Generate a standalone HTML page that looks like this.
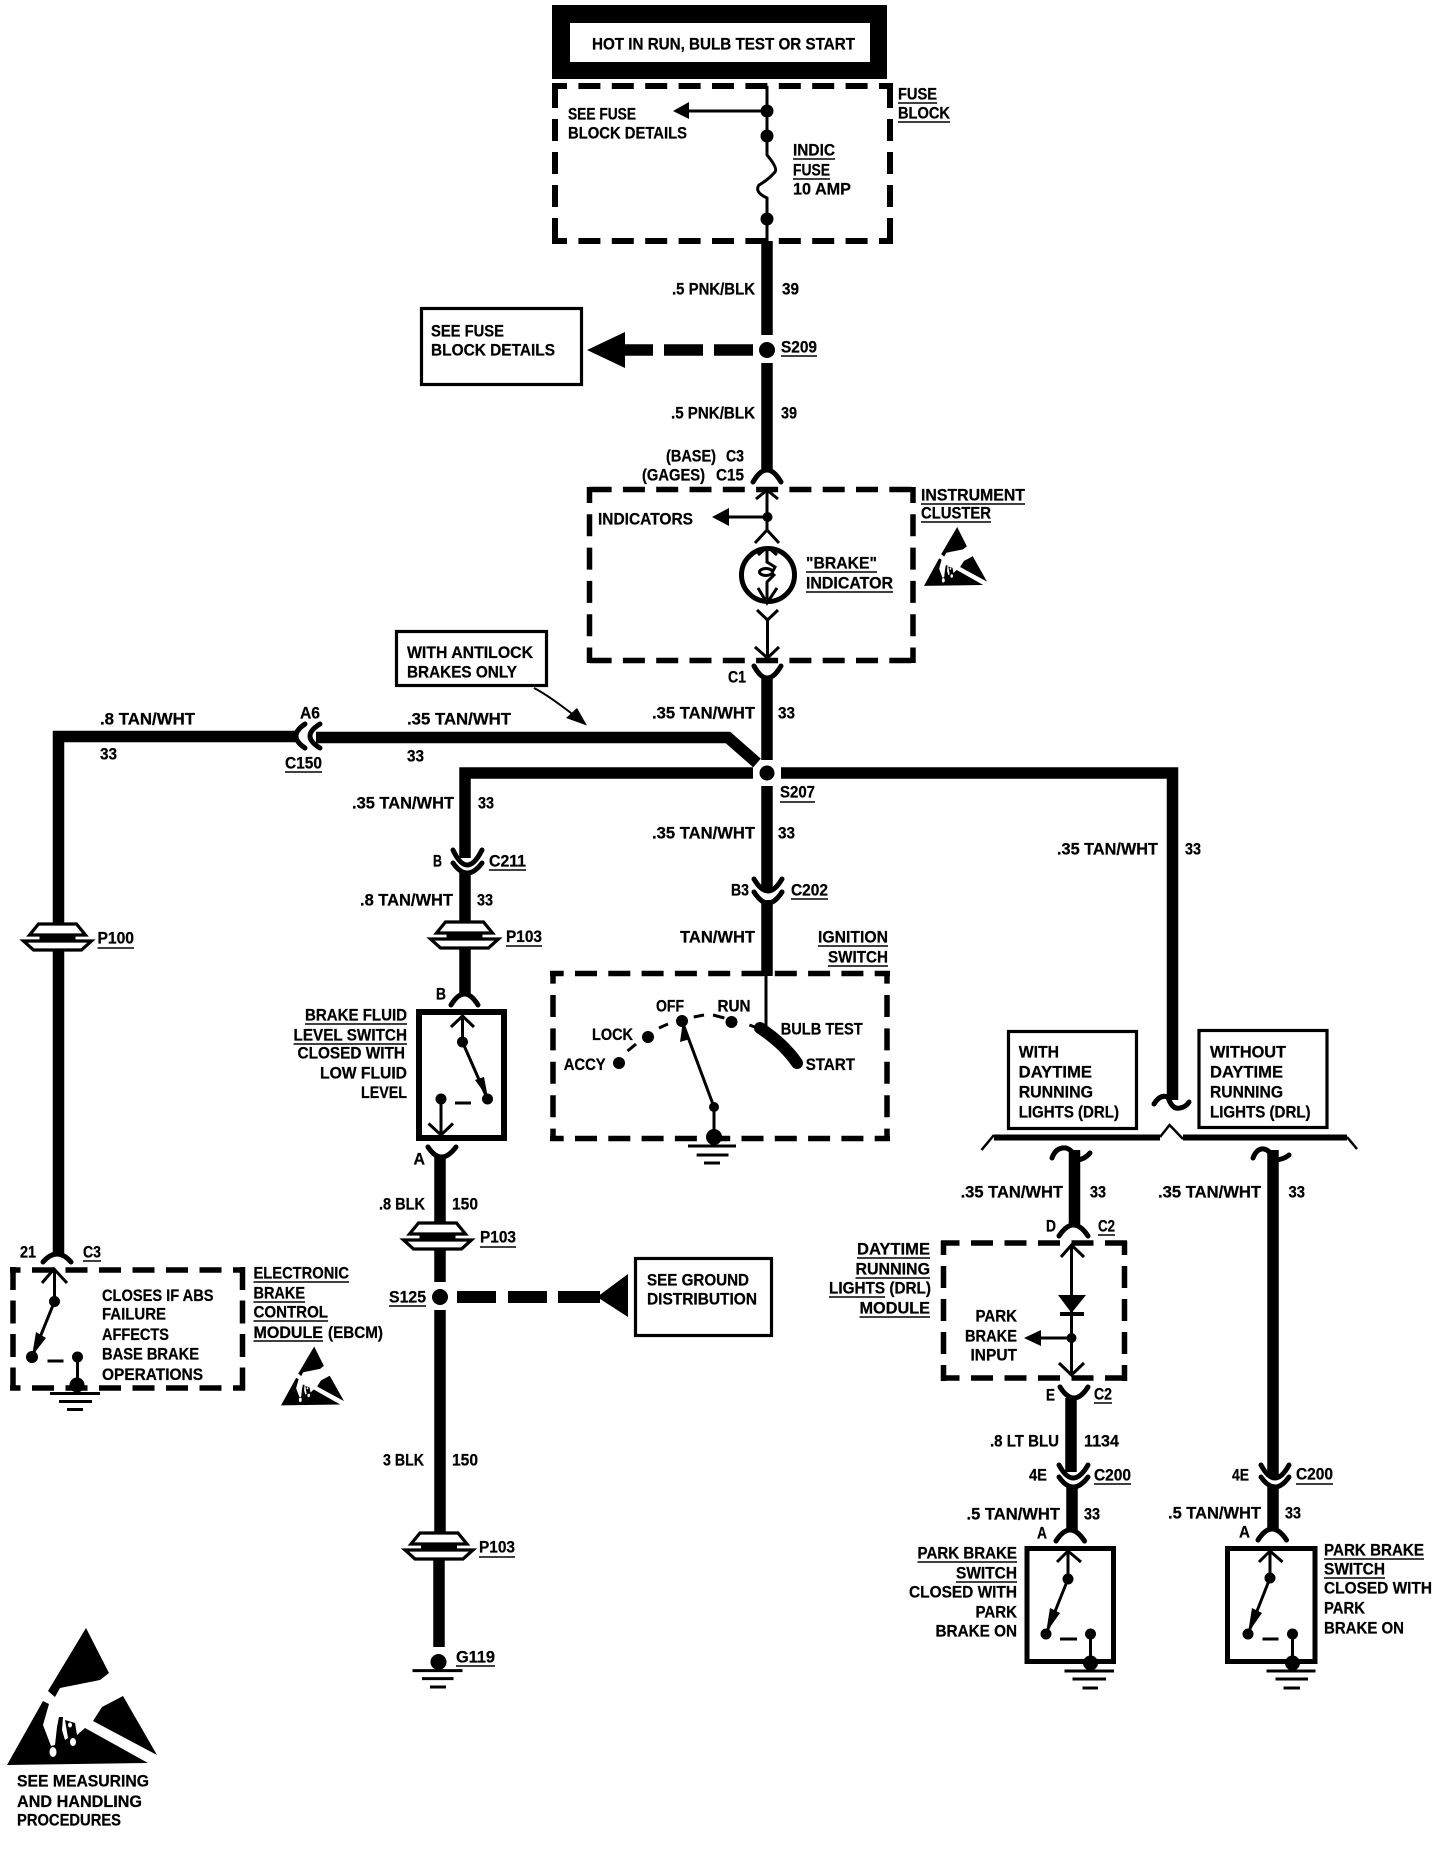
<!DOCTYPE html>
<html><head><meta charset="utf-8"><title>Brake indicator wiring diagram</title>
<style>
html,body{margin:0;padding:0;background:#fff}
svg{display:block}
text{font-family:"Liberation Sans",Arial,sans-serif;font-weight:700;font-size:16.4px;fill:#000;stroke:#000;stroke-width:.25}
.w{fill:none;stroke:#000;stroke-width:11.5}
.c{fill:none;stroke:#000;stroke-width:5;stroke-linecap:round}
.t{fill:none;stroke:#000;stroke-width:3}
.u{fill:none;stroke:#000;stroke-width:1.6}
.b{fill:none;stroke:#000;stroke-width:3.2}
.d{fill:none;stroke:#000;stroke-width:5.5}
</style></head><body>
<svg xmlns="http://www.w3.org/2000/svg" width="1440" height="1850" viewBox="0 0 1440 1850">
<defs>
<g id="gr">
<path d="M-19 -13H19L28 -2H-28Z" fill="#fff" stroke="#000" stroke-width="3.2"/>
<path d="M-18 1H18" stroke="#000" stroke-width="3"/>
<path d="M-34 4H34L24 13H-24Z" fill="#fff" stroke="#000" stroke-width="3.2"/>
</g>
<g id="esd">
<path d="M79 0L102 45L93 52L53 60L48 69L41 63Z"/>
<path d="M0 137L36 73L42 76L36 97L44 118L48 117L50 99L52 89L56 89L55 102L58 112L61 110L58 92L68 95L70 107L78 100L141 135Z"/>
<path d="M116 68L150 127L86 93L95 79Z"/>
<ellipse cx="46" cy="124" rx="3.5" ry="5" fill="#fff"/>
<ellipse cx="66" cy="114" rx="3" ry="4" fill="#fff"/>
<ellipse cx="63" cy="97" rx="2" ry="2.5" fill="#fff"/>
</g>
</defs>
<rect width="1440" height="1850" fill="#fff"/>

<!-- top box -->
<rect x="552" y="5" width="335" height="74"/>
<rect x="570" y="23" width="300" height="39" fill="#fff"/>

<!-- dashed boxes -->
<g class="d">
<path stroke-width="6" stroke-dasharray="22 11.4" stroke-dashoffset="7" d="M552 86H893M552 241H893"/>
<path stroke-width="6" stroke-dasharray="22 11" d="M555 86V244M890 86V244"/>
<path stroke-dasharray="22 11.3" d="M589.6 489.5H915M589.6 660.5H915"/>
<path stroke-dasharray="22 11.3" stroke-dashoffset="6" d="M589.5 487V663M913 487V663"/>
<path stroke-dasharray="22 11.3" stroke-dashoffset="8.3" d="M550 973.5H890M550 1138.5H890"/>
<path stroke-dasharray="22 11.4" stroke-dashoffset="9.4" d="M553 971V1141M887 971V1141"/>
<path stroke-dasharray="22 11.5" stroke-dashoffset="11.5" d="M10 1270H245M10 1388H245"/>
<path stroke-dasharray="23 10.5" d="M13 1267V1391M242.5 1267V1391"/>
<path stroke-dasharray="22 11.5" stroke-dashoffset="3.5" d="M941 1243H1127M941 1378H1127"/>
<path stroke-dasharray="22 11" stroke-dashoffset="8" d="M943.5 1241V1381M1124.5 1241V1381"/>
</g>

<!-- solid boxes -->
<g class="b">
<rect x="421.5" y="308.5" width="160" height="76"/>
<rect x="396.5" y="631.5" width="150" height="54"/>
<rect x="635.5" y="1258.5" width="136" height="77"/>
<rect x="1008.5" y="1031.5" width="128" height="97"/>
<rect x="1199" y="1030.5" width="128" height="97"/>
</g>
<rect x="419" y="1012" width="85" height="126" fill="none" stroke="#000" stroke-width="6"/>
<rect x="1027" y="1548.5" width="86.5" height="113" fill="none" stroke="#000" stroke-width="5"/>
<rect x="1227.5" y="1548.5" width="87.5" height="113" fill="none" stroke="#000" stroke-width="5"/>

<!-- thick wires -->
<g class="w">
<path d="M767 241V335M767 363V472"/>
<path d="M767 678V760M767 786V890M767 900V976"/>
<path d="M58.5 923V736.5H298M58.5 951V1254"/>
<path d="M316 737.5H728L757 763"/>
<path d="M753 773H465V858M465 873V922M465 948V995"/>
<path d="M781 773H1172.5V1100"/>
<path d="M440 1157V1222M440 1249V1282M440 1310V1532M439 1560V1647"/>
<path d="M1074.5 1150V1225M1071 1398V1472M1072 1487V1530"/>
<path d="M1273 1150V1476M1273 1487V1530"/>
<path d="M760 1028Q784 1044 797 1063" stroke-width="12" stroke-linecap="round"/>
</g>

<!-- dashed heavy connectors -->
<path d="M625 350H653M664 350H703M714 350H753" stroke="#000" stroke-width="11.5" fill="none"/>
<path d="M587 350L625 332V368Z"/>
<path d="M457 1297H496M508 1297H547M558 1297H600" stroke="#000" stroke-width="12" fill="none"/>
<path d="M597 1297L628 1274V1317Z"/>

<!-- connector arcs -->
<g class="c">
<path d="M753 482Q767 458 781 482"/>
<path d="M754 666Q767 690 781 666"/>
<path d="M754 879Q768 903 782 879M754 892Q768 914 782 892"/>
<path d="M305 724Q287 736 305 748M320 724Q300 736 320 748"/>
<path d="M453 850Q467 880 482 850M453 863Q467 883 482 863"/>
<path d="M451 1005Q464.5 983 478 1005"/>
<path d="M428 1147Q441 1167 456 1147"/>
<path d="M43 1262Q57 1246 71 1262"/>
<path d="M1059 1236Q1073.5 1214 1088 1236"/>
<path d="M1060 1387Q1074 1409 1088 1387"/>
<path d="M1059 1465Q1073 1491 1088 1465M1059 1477Q1073 1497 1088 1477"/>
<path d="M1056 1541Q1070 1519 1084.5 1541"/>
<path d="M1261 1465Q1275 1491 1289 1465M1261 1477Q1275 1497 1289 1477"/>
<path d="M1258 1540Q1272 1518 1286.5 1540"/>
<path d="M1154 1104Q1160 1094 1168 1097Q1172 1110 1180 1108Q1186 1107 1189 1102"/>
<path d="M1052 1158Q1056 1147 1066 1148Q1073 1150 1076 1160Q1084 1160 1090 1153"/>
<path d="M1253 1158Q1257 1148 1264 1149Q1270 1150 1274 1160Q1283 1160 1289 1155"/>
</g>

<!-- grommets -->
<use href="#gr" x="57.5" y="937"/>
<use href="#gr" x="464.5" y="935"/>
<use href="#gr" x="437.5" y="1236"/>
<use href="#gr" x="439" y="1546"/>

<!-- thin wires & device details -->
<g class="t">
<path d="M767 86V155Q778 168 775 172Q768 180 759 185Q754 192 767 198V241"/>
<path d="M767 111H688"/>
<path d="M767 490V530M756 499L767 490L778 499M767 517H728"/>
<path d="M755 543L767 530L779 543"/>
<path d="M757 610L767.5 620L778 610M767.5 620V658M755 647L767.5 658L779 647"/>
<path d="M766 976V1030"/>
<path d="M627.5 1051L636 1044M659 1028L668 1024M693.7 1017L704 1015M713 1015L724.4 1018M749.4 1025L757.5 1028"/>
<path d="M714 1107L682 1021M714 1107V1137"/>
<path d="M688 1146H736M696.6 1155H728.5M704 1163H720"/>
<path d="M451 1027L462.5 1016L474 1027M462.5 1016V1042L487.5 1099"/>
<path d="M455 1103H471"/>
<path d="M441 1099V1135M428.5 1123.5L441 1135L453 1123.5"/>
<path d="M42 1283L54 1269L67 1283M54.5 1269V1301.5L32 1357"/>
<path d="M47.5 1361H63.5M77.5 1357V1385"/>
<path d="M50 1393.5H100M59 1401.5H92M67 1409.5H83"/>
<path d="M412.5 1670.6H462.5M422 1678.6H453.5M430 1687H446"/>
<path d="M1061 1257L1071.5 1245L1084 1257M1071.5 1245V1375M1059 1363L1071.5 1375L1084 1363M1071.5 1338H1040"/>
<path d="M1057 1562L1068 1551L1081 1562M1068 1551V1579L1046 1634"/>
<path d="M1060 1639H1077M1090.5 1634V1663"/>
<path d="M1064.5 1671H1114M1072.5 1679H1106M1082.5 1688H1098"/>
<path d="M1259 1562L1270 1551L1282.5 1562M1270 1551V1578L1248 1634"/>
<path d="M1262.5 1639H1278.5M1292.5 1634V1663"/>
<path d="M1266.5 1671H1315.5M1275.5 1679H1308M1283.5 1688H1300"/>
<path d="M534 688Q550 696 585 724" stroke-width="2"/>
<path d="M994 1135L981.5 1150M1160 1137L1169.6 1125L1183 1139M1347 1137L1357 1149" stroke-width="2.5"/>
<circle cx="768" cy="575" r="26.5" stroke-width="5"/>
<path d="M767 548V562L775 567L773 571M775 574L767 582V603M758 588L767 603L777 588M758 555L765 549M777 555L770 549"/>
<ellipse cx="766" cy="572" rx="6.5" ry="3.5"/>
</g>

<!-- arrowheads -->
<path d="M673 111L689 102V119Z"/>
<path d="M712 517L729 508V526Z"/>
<path d="M587 725.5L566 718L577 708Z"/>
<path d="M1024 1338L1041 1330V1346Z"/>
<path d="M1058 1295H1086L1071.5 1313Z"/>
<path d="M1060 1312H1084V1316H1060Z"/>
<path d="M683 1021L680 1042L690 1039Z"/>
<path d="M488 1098L475 1080L484 1077Z"/>
<path d="M32 1356L36 1332L46 1338Z"/>
<path d="M1046 1633L1050 1608L1060 1613Z"/>
<path d="M1248 1633L1252 1608L1262 1613Z"/>

<!-- nodes -->
<g>
<circle cx="767" cy="111" r="6.5"/><circle cx="767" cy="136" r="6.5"/><circle cx="767" cy="219" r="6.5"/>
<circle cx="767" cy="350" r="8"/><circle cx="767.5" cy="517" r="5"/><circle cx="767" cy="773" r="7.5"/>
<circle cx="682" cy="1021" r="6"/><circle cx="731.5" cy="1022" r="6"/><circle cx="648" cy="1037" r="6"/><circle cx="619" cy="1063" r="6"/>
<circle cx="714" cy="1107" r="5"/><circle cx="714" cy="1137" r="8"/>
<circle cx="462.5" cy="1042" r="5.5"/><circle cx="487.5" cy="1099" r="5.5"/><circle cx="441" cy="1099" r="5.5"/>
<circle cx="54.5" cy="1301.5" r="5.5"/><circle cx="32" cy="1357" r="6"/><circle cx="77.5" cy="1357" r="5.5"/><circle cx="77" cy="1385" r="7.5"/>
<circle cx="440" cy="1297" r="8"/><circle cx="438.5" cy="1662" r="8"/>
<circle cx="1071.5" cy="1338" r="5"/>
<circle cx="1068" cy="1579" r="5.5"/><circle cx="1046" cy="1634" r="5.5"/><circle cx="1090.5" cy="1634" r="5.5"/><circle cx="1090.5" cy="1663" r="7.5"/>
<circle cx="1270" cy="1578" r="5.5"/><circle cx="1248" cy="1634" r="5.5"/><circle cx="1292.5" cy="1634" r="5.5"/><circle cx="1292.5" cy="1663" r="7.5"/>
</g>

<!-- bracket -->
<path d="M994 1137.5H1160M1183 1137.5H1347" stroke="#000" stroke-width="6" fill="none"/>

<!-- ESD icons -->
<use href="#esd" transform="translate(7 1628)"/>
<use href="#esd" transform="translate(924 527) scale(.42 .43)"/>
<use href="#esd" transform="translate(281 1346.5) scale(.42 .43)"/>

<!-- underlines -->
<path class="u" d="M793 159H835M793 179H830M898 103H937M898 122H950M781 356H817M921 504H1025M921 522H991M806 572H877M806 592H893M780 802H815M791 899H828M818 946H888M828 966H888M97.5 948H134M285 772H322M489 870H526M506 946H542M305 1024H407M293.5 1044H407M253.5 1282H349M253.5 1302H305M253.5 1321H328M253.5 1341H323M83 1261H101M480 1247H516M389 1306H426M479 1557H515M456 1666H495M857 1258H930M855.5 1278H930M829 1297H885M859.5 1317H930M1098 1235H1115M1094 1403H1112M1094 1484H1131M1296 1484H1333M917.5 1562H1017M956 1582H1017M1324 1559H1424M1324 1578H1385"/>

<!-- labels -->
<g transform="translate(0 -.7)">
<text x="592" y="50" textLength="263" lengthAdjust="spacingAndGlyphs">HOT IN RUN, BULB TEST OR START</text>
<text x="568" y="120" textLength="68" lengthAdjust="spacingAndGlyphs">SEE FUSE</text>
<text x="568" y="139" textLength="119" lengthAdjust="spacingAndGlyphs">BLOCK DETAILS</text>
<text x="793" y="156" textLength="42" lengthAdjust="spacingAndGlyphs">INDIC</text>
<text x="793" y="176" textLength="37" lengthAdjust="spacingAndGlyphs">FUSE</text>
<text x="793" y="195" textLength="58" lengthAdjust="spacingAndGlyphs">10 AMP</text>
<text x="898" y="100" textLength="39" lengthAdjust="spacingAndGlyphs">FUSE</text>
<text x="898" y="119" textLength="52" lengthAdjust="spacingAndGlyphs">BLOCK</text>
<text x="672" y="295" textLength="83" lengthAdjust="spacingAndGlyphs">.5 PNK/BLK</text>
<text x="782" y="295" textLength="17" lengthAdjust="spacingAndGlyphs">39</text>
<text x="431" y="337" textLength="73" lengthAdjust="spacingAndGlyphs">SEE FUSE</text>
<text x="431" y="356" textLength="124" lengthAdjust="spacingAndGlyphs">BLOCK DETAILS</text>
<text x="781" y="353" textLength="36" lengthAdjust="spacingAndGlyphs">S209</text>
<text x="671" y="419" textLength="84" lengthAdjust="spacingAndGlyphs">.5 PNK/BLK</text>
<text x="781" y="419" textLength="16" lengthAdjust="spacingAndGlyphs">39</text>
<text x="666" y="462" textLength="50" lengthAdjust="spacingAndGlyphs">(BASE)</text>
<text x="726" y="462" textLength="18" lengthAdjust="spacingAndGlyphs">C3</text>
<text x="642" y="481" textLength="63" lengthAdjust="spacingAndGlyphs">(GAGES)</text>
<text x="716" y="481" textLength="28" lengthAdjust="spacingAndGlyphs">C15</text>
<text x="598" y="525" textLength="95" lengthAdjust="spacingAndGlyphs">INDICATORS</text>
<text x="921" y="501" textLength="104" lengthAdjust="spacingAndGlyphs">INSTRUMENT</text>
<text x="921" y="519" textLength="70" lengthAdjust="spacingAndGlyphs">CLUSTER</text>
<text x="806" y="569" textLength="71" lengthAdjust="spacingAndGlyphs">"BRAKE"</text>
<text x="806" y="589" textLength="87" lengthAdjust="spacingAndGlyphs">INDICATOR</text>
<text x="728" y="683" textLength="18" lengthAdjust="spacingAndGlyphs">C1</text>
<text x="407" y="658.5" textLength="126" lengthAdjust="spacingAndGlyphs">WITH ANTILOCK</text>
<text x="407" y="678" textLength="110" lengthAdjust="spacingAndGlyphs">BRAKES ONLY</text>
<text x="652" y="719" textLength="103" lengthAdjust="spacingAndGlyphs">.35 TAN/WHT</text>
<text x="778" y="719" textLength="17" lengthAdjust="spacingAndGlyphs">33</text>
<text x="100" y="725" textLength="95" lengthAdjust="spacingAndGlyphs">.8 TAN/WHT</text>
<text x="100" y="760" textLength="17" lengthAdjust="spacingAndGlyphs">33</text>
<text x="300" y="719" textLength="20" lengthAdjust="spacingAndGlyphs">A6</text>
<text x="285" y="769" textLength="37" lengthAdjust="spacingAndGlyphs">C150</text>
<text x="407" y="725" textLength="104" lengthAdjust="spacingAndGlyphs">.35 TAN/WHT</text>
<text x="407" y="762" textLength="17" lengthAdjust="spacingAndGlyphs">33</text>
<text x="780" y="798" textLength="35" lengthAdjust="spacingAndGlyphs">S207</text>
<text x="352" y="809" textLength="102" lengthAdjust="spacingAndGlyphs">.35 TAN/WHT</text>
<text x="478" y="809" textLength="16" lengthAdjust="spacingAndGlyphs">33</text>
<text x="652" y="839" textLength="103" lengthAdjust="spacingAndGlyphs">.35 TAN/WHT</text>
<text x="778" y="839" textLength="17" lengthAdjust="spacingAndGlyphs">33</text>
<text x="1057" y="855" textLength="101" lengthAdjust="spacingAndGlyphs">.35 TAN/WHT</text>
<text x="1185" y="855" textLength="16" lengthAdjust="spacingAndGlyphs">33</text>
<text x="433" y="867" textLength="9" lengthAdjust="spacingAndGlyphs">B</text>
<text x="489" y="867" textLength="37" lengthAdjust="spacingAndGlyphs">C211</text>
<text x="731" y="896" textLength="18" lengthAdjust="spacingAndGlyphs">B3</text>
<text x="791" y="896" textLength="37" lengthAdjust="spacingAndGlyphs">C202</text>
<text x="360" y="906" textLength="93" lengthAdjust="spacingAndGlyphs">.8 TAN/WHT</text>
<text x="477" y="906" textLength="16" lengthAdjust="spacingAndGlyphs">33</text>
<text x="97.5" y="944" textLength="36.5" lengthAdjust="spacingAndGlyphs">P100</text>
<text x="506" y="942.5" textLength="36" lengthAdjust="spacingAndGlyphs">P103</text>
<text x="680" y="943" textLength="75" lengthAdjust="spacingAndGlyphs">TAN/WHT</text>
<text x="818" y="943" textLength="70" lengthAdjust="spacingAndGlyphs">IGNITION</text>
<text x="828" y="963" textLength="60" lengthAdjust="spacingAndGlyphs">SWITCH</text>
<text x="436" y="1000" textLength="10" lengthAdjust="spacingAndGlyphs">B</text>
<text x="305" y="1021" textLength="102" lengthAdjust="spacingAndGlyphs">BRAKE FLUID</text>
<text x="293.5" y="1041" textLength="113.5" lengthAdjust="spacingAndGlyphs">LEVEL SWITCH</text>
<text x="297.5" y="1059" textLength="107.5" lengthAdjust="spacingAndGlyphs">CLOSED WITH</text>
<text x="320" y="1079" textLength="87" lengthAdjust="spacingAndGlyphs">LOW FLUID</text>
<text x="361" y="1098.5" textLength="46" lengthAdjust="spacingAndGlyphs">LEVEL</text>
<text x="413.5" y="1165" textLength="11.5" lengthAdjust="spacingAndGlyphs">A</text>
<text x="656" y="1012" textLength="28" lengthAdjust="spacingAndGlyphs">OFF</text>
<text x="717.5" y="1012" textLength="33" lengthAdjust="spacingAndGlyphs">RUN</text>
<text x="592" y="1040.6" textLength="41" lengthAdjust="spacingAndGlyphs">LOCK</text>
<text x="563.7" y="1070.6" textLength="42" lengthAdjust="spacingAndGlyphs">ACCY</text>
<text x="780.7" y="1035" textLength="82" lengthAdjust="spacingAndGlyphs">BULB TEST</text>
<text x="805.7" y="1070.6" textLength="49.3" lengthAdjust="spacingAndGlyphs">START</text>
<text x="1018.7" y="1058" textLength="40.3" lengthAdjust="spacingAndGlyphs">WITH</text>
<text x="1018.7" y="1078" textLength="73.3" lengthAdjust="spacingAndGlyphs">DAYTIME</text>
<text x="1018.7" y="1098" textLength="74.3" lengthAdjust="spacingAndGlyphs">RUNNING</text>
<text x="1018.7" y="1118" textLength="100.3" lengthAdjust="spacingAndGlyphs">LIGHTS (DRL)</text>
<text x="1210" y="1058" textLength="76" lengthAdjust="spacingAndGlyphs">WITHOUT</text>
<text x="1210" y="1078" textLength="73" lengthAdjust="spacingAndGlyphs">DAYTIME</text>
<text x="1210" y="1098" textLength="73" lengthAdjust="spacingAndGlyphs">RUNNING</text>
<text x="1210" y="1118" textLength="100.6" lengthAdjust="spacingAndGlyphs">LIGHTS (DRL)</text>
<text x="960.6" y="1198" textLength="102.4" lengthAdjust="spacingAndGlyphs">.35 TAN/WHT</text>
<text x="1090" y="1198" textLength="16" lengthAdjust="spacingAndGlyphs">33</text>
<text x="1158" y="1198" textLength="103" lengthAdjust="spacingAndGlyphs">.35 TAN/WHT</text>
<text x="1288.5" y="1198" textLength="16.5" lengthAdjust="spacingAndGlyphs">33</text>
<text x="379" y="1210" textLength="46" lengthAdjust="spacingAndGlyphs">.8 BLK</text>
<text x="452" y="1210" textLength="26" lengthAdjust="spacingAndGlyphs">150</text>
<text x="480" y="1243" textLength="36" lengthAdjust="spacingAndGlyphs">P103</text>
<text x="1046" y="1232" textLength="10" lengthAdjust="spacingAndGlyphs">D</text>
<text x="1098" y="1232" textLength="17" lengthAdjust="spacingAndGlyphs">C2</text>
<text x="857" y="1255" textLength="73" lengthAdjust="spacingAndGlyphs">DAYTIME</text>
<text x="855.5" y="1275" textLength="74.5" lengthAdjust="spacingAndGlyphs">RUNNING</text>
<text x="829" y="1294" textLength="102" lengthAdjust="spacingAndGlyphs">LIGHTS (DRL)</text>
<text x="859.5" y="1314" textLength="70.5" lengthAdjust="spacingAndGlyphs">MODULE</text>
<text x="20" y="1258" textLength="16" lengthAdjust="spacingAndGlyphs">21</text>
<text x="83" y="1258" textLength="18" lengthAdjust="spacingAndGlyphs">C3</text>
<text x="253.5" y="1279.4" textLength="95.5" lengthAdjust="spacingAndGlyphs">ELECTRONIC</text>
<text x="253.5" y="1299" textLength="51.5" lengthAdjust="spacingAndGlyphs">BRAKE</text>
<text x="253.5" y="1318.4" textLength="74.5" lengthAdjust="spacingAndGlyphs">CONTROL</text>
<text x="253.5" y="1338.5" textLength="69.5" lengthAdjust="spacingAndGlyphs">MODULE</text>
<text x="328" y="1338.5" textLength="55" lengthAdjust="spacingAndGlyphs">(EBCM)</text>
<text x="102" y="1301.5" textLength="111.5" lengthAdjust="spacingAndGlyphs">CLOSES IF ABS</text>
<text x="102" y="1320.4" textLength="64" lengthAdjust="spacingAndGlyphs">FAILURE</text>
<text x="102" y="1340.5" textLength="67" lengthAdjust="spacingAndGlyphs">AFFECTS</text>
<text x="102" y="1360" textLength="97" lengthAdjust="spacingAndGlyphs">BASE BRAKE</text>
<text x="102" y="1380.6" textLength="101" lengthAdjust="spacingAndGlyphs">OPERATIONS</text>
<text x="389" y="1303" textLength="37" lengthAdjust="spacingAndGlyphs">S125</text>
<text x="647" y="1286" textLength="102" lengthAdjust="spacingAndGlyphs">SEE GROUND</text>
<text x="647" y="1305" textLength="110" lengthAdjust="spacingAndGlyphs">DISTRIBUTION</text>
<text x="975.5" y="1322" textLength="41.5" lengthAdjust="spacingAndGlyphs">PARK</text>
<text x="965" y="1342" textLength="52" lengthAdjust="spacingAndGlyphs">BRAKE</text>
<text x="970.5" y="1361" textLength="46.5" lengthAdjust="spacingAndGlyphs">INPUT</text>
<text x="1046" y="1401" textLength="9" lengthAdjust="spacingAndGlyphs">E</text>
<text x="1094" y="1400" textLength="18" lengthAdjust="spacingAndGlyphs">C2</text>
<text x="990" y="1447" textLength="69" lengthAdjust="spacingAndGlyphs">.8 LT BLU</text>
<text x="1084" y="1447" textLength="35" lengthAdjust="spacingAndGlyphs">1134</text>
<text x="383" y="1466" textLength="41" lengthAdjust="spacingAndGlyphs">3 BLK</text>
<text x="452" y="1466" textLength="26" lengthAdjust="spacingAndGlyphs">150</text>
<text x="1029" y="1481" textLength="18" lengthAdjust="spacingAndGlyphs">4E</text>
<text x="1094" y="1481" textLength="37" lengthAdjust="spacingAndGlyphs">C200</text>
<text x="1232" y="1481" textLength="17" lengthAdjust="spacingAndGlyphs">4E</text>
<text x="1296" y="1480" textLength="37" lengthAdjust="spacingAndGlyphs">C200</text>
<text x="966.5" y="1520" textLength="93.5" lengthAdjust="spacingAndGlyphs">.5 TAN/WHT</text>
<text x="1084" y="1520" textLength="16" lengthAdjust="spacingAndGlyphs">33</text>
<text x="1168" y="1519" textLength="93" lengthAdjust="spacingAndGlyphs">.5 TAN/WHT</text>
<text x="1285" y="1519" textLength="16" lengthAdjust="spacingAndGlyphs">33</text>
<text x="1037" y="1539" textLength="10" lengthAdjust="spacingAndGlyphs">A</text>
<text x="1239" y="1538" textLength="11" lengthAdjust="spacingAndGlyphs">A</text>
<text x="479" y="1553" textLength="36" lengthAdjust="spacingAndGlyphs">P103</text>
<text x="917.5" y="1559" textLength="99.5" lengthAdjust="spacingAndGlyphs">PARK BRAKE</text>
<text x="956" y="1579" textLength="61" lengthAdjust="spacingAndGlyphs">SWITCH</text>
<text x="909" y="1598" textLength="108" lengthAdjust="spacingAndGlyphs">CLOSED WITH</text>
<text x="975.5" y="1618" textLength="41.5" lengthAdjust="spacingAndGlyphs">PARK</text>
<text x="935.5" y="1637" textLength="81.5" lengthAdjust="spacingAndGlyphs">BRAKE ON</text>
<text x="1324" y="1556" textLength="100" lengthAdjust="spacingAndGlyphs">PARK BRAKE</text>
<text x="1324" y="1575" textLength="61" lengthAdjust="spacingAndGlyphs">SWITCH</text>
<text x="1324" y="1594" textLength="108" lengthAdjust="spacingAndGlyphs">CLOSED WITH</text>
<text x="1324" y="1614" textLength="41" lengthAdjust="spacingAndGlyphs">PARK</text>
<text x="1324" y="1634" textLength="80" lengthAdjust="spacingAndGlyphs">BRAKE ON</text>
<text x="456" y="1663" textLength="39" lengthAdjust="spacingAndGlyphs">G119</text>
<text x="17" y="1787" textLength="132" lengthAdjust="spacingAndGlyphs">SEE  MEASURING</text>
<text x="17" y="1807.5" textLength="125" lengthAdjust="spacingAndGlyphs">AND HANDLING</text>
<text x="17" y="1826" textLength="104" lengthAdjust="spacingAndGlyphs">PROCEDURES</text>
</g>
</svg>
</body></html>
